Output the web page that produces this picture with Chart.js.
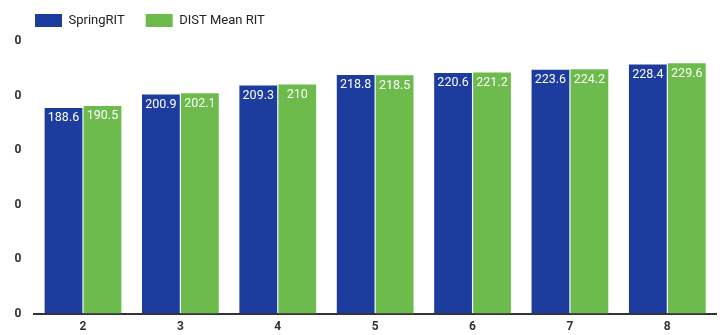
<!DOCTYPE html>
<html>
<head>
<meta charset="utf-8">
<script src="https://cdn.jsdelivr.net/npm/chart.js@4"></script>
<style>
  html, body { margin: 0; padding: 0; background: #fff; }
  #box { position: absolute; left: 0; top: 0; width: 722px; height: 335px; }
</style>
</head>
<body>
<div id="box"><canvas id="c"></canvas></div>
<script>
// Grade levels and RIT scores
const grades = ['2', '3', '4', '5', '6', '7', '8'];
const springRIT = [188.6, 200.9, 209.3, 218.8, 220.6, 223.6, 228.4];
const distMeanRIT = [190.5, 202.1, 210, 218.5, 221.2, 224.2, 229.6];
const yTicks = [0, 50, 100, 150, 200, 250];

const BLUE = '#1c3c9e';
const GREEN = '#6cbb4c';

// Value labels written just inside the top of each bar
const barValues = {
  id: 'barValues',
  afterDatasetsDraw(chart) {
    const ctx = chart.ctx;
    ctx.save();
    ctx.font = '12.5px Roboto';
    ctx.fillStyle = '#ffffff';
    ctx.textAlign = 'center';
    ctx.textBaseline = 'top';
    chart.data.datasets.forEach((ds, i) => {
      chart.getDatasetMeta(i).data.forEach((bar, j) => {
        ctx.fillText(String(ds.data[j]), bar.x, bar.y + 4);
      });
    });
    ctx.restore();
  }
};

// Fixed-height legend band so the plot starts right under it
const legendBand = {
  id: 'legendBand',
  beforeLayout(chart) {
    const legend = chart.legend;
    if (legend && !legend._bandFit) {
      const fit = legend.fit;
      legend.fit = function () {
        fit.call(this);
        this.height = 48;
      };
      legend._bandFit = true;
    }
  }
};

new Chart(document.getElementById('c'), {
  type: 'bar',
  data: {
    labels: grades,
    datasets: [
      { label: 'SpringRIT', data: springRIT, backgroundColor: BLUE },
      { label: 'DIST Mean RIT', data: distMeanRIT, backgroundColor: GREEN }
    ]
  },
  options: {
    responsive: true,
    maintainAspectRatio: false,
    animation: false,
    layout: { padding: { left: 14, right: 6, top: -7, bottom: -5 } },
    datasets: { bar: { categoryPercentage: 0.8, barPercentage: 0.97 } },
    plugins: {
      tooltip: { enabled: false },
      legend: {
        position: 'top',
        align: 'start',
        labels: {
          boxWidth: 27,
          boxHeight: 13,
          padding: 21,
          color: '#222',
          font: { family: 'Roboto', size: 13 }
        }
      }
    },
    scales: {
      x: {
        grid: { display: false, drawTicks: false },
        border: { display: true, color: '#333', width: 2 },
        ticks: { color: '#333', padding: 6, font: { family: 'Roboto', size: 12, weight: 'bold' } }
      },
      y: {
        min: 0,
        max: 250,
        afterBuildTicks(scale) { scale.ticks = yTicks.map(v => ({ value: v })); },
        afterFit(scale) { scale.width = 20.3; },
        grid: { display: false, drawTicks: false },
        border: { display: false },
        ticks: { color: '#333', padding: 13, font: { family: 'Roboto', size: 12, weight: 'bold' } }
      }
    }
  },
  plugins: [legendBand, barValues]
});
</script>
</body>
</html>
